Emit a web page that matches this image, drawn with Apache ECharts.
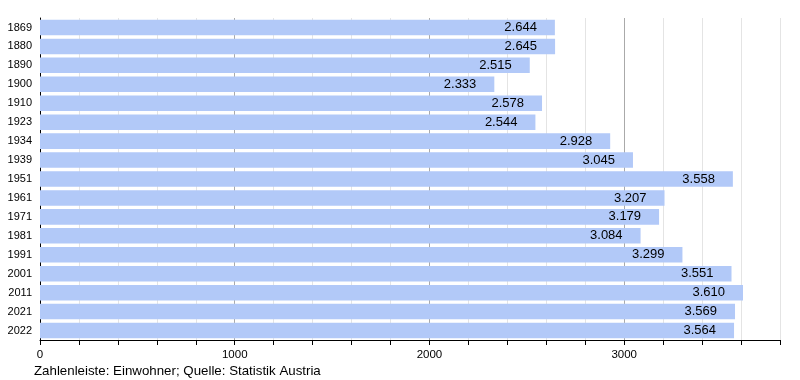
<!DOCTYPE html>
<html><head><meta charset="utf-8">
<script src="https://cdn.jsdelivr.net/npm/echarts@6/dist/echarts.min.js"></script>
<style>html,body{margin:0;padding:0;background:#fff}#c{width:800px;height:380px}</style>
</head><body><div id="c"></div>
<script>
const years = ['1869','1880','1890','1900','1910','1923','1934','1939','1951','1961','1971','1981','1991','2001','2011','2021','2022'];
const population = [2644,2645,2515,2333,2578,2544,2928,3045,3558,3207,3179,3084,3299,3551,3610,3569,3564];
const footer = 'Zahlenleiste: Einwohner; Quelle: Statistik Austria';

function de(n){ return String(n).replace(/\B(?=(\d{3})+(?!\d))/g,'.'); }
const FONT = '"Liberation Sans", Arial, sans-serif';
const chart = echarts.init(document.getElementById('c'), null, {renderer:'canvas'});
chart.setOption({
  animation:false,
  textStyle:{fontFamily:FONT},
  title:{text:footer,left:34,top:365,padding:0,textStyle:{fontSize:13.3,fontWeight:'normal',color:'#000',fontFamily:FONT}},
  grid:{left:40,right:20,top:18,bottom:40,containLabel:false},
  xAxis:{type:'value',min:0,max:3800,interval:200,
    axisLine:{show:true,lineStyle:{color:'#000',width:1}},
    axisTick:{show:true,length:5,lineStyle:{color:'#000'}},
    axisLabel:{fontSize:11.5,color:'#000',margin:9,fontFamily:FONT,formatter:v=> v%1000===0 ? String(v) : ''},
    splitLine:{show:true,lineStyle:{color:['#aaaaaa','#e4e4e4','#e4e4e4','#e4e4e4','#e4e4e4'],width:1}}
  },
  yAxis:{type:'category',data:years,inverse:true,
    axisLine:{show:true,lineStyle:{color:'#000',width:1}},
    axisTick:{show:false},
    axisLabel:{fontSize:11,color:'#000',margin:8,fontFamily:FONT},
    splitLine:{show:false}
  },
  series:[{type:'bar',data:population,barCategoryGap:'18%',
    itemStyle:{color:'#b2c9f8'},
    label:{show:true,position:'insideRight',distance:18,color:'#000',fontSize:13,fontFamily:FONT,formatter:p=>de(p.value)}
  }]
});
</script></body></html>
